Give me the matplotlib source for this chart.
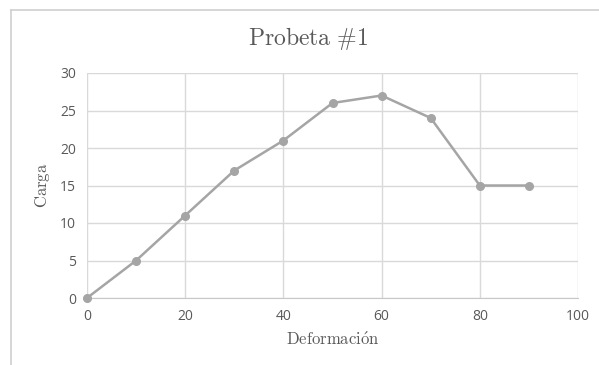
import matplotlib
matplotlib.use("Agg")
import matplotlib.pyplot as plt
from matplotlib.lines import Line2D

deformacion = [0, 10, 20, 30, 40, 50, 60, 70, 80, 90]
carga = [0, 5, 11, 17, 21, 26, 27, 24, 15, 15]
x_ticks = [0, 20, 40, 60, 80, 100]
y_ticks = [0, 5, 10, 15, 20, 25, 30]

plt.rcParams["mathtext.fontset"] = "cm"
text_color = "#595959"
series_color = "#a5a5a5"
grid_color = "#d9d9d9"

fig = plt.figure(figsize=(5.99, 3.65), dpi=100)
ax = fig.add_axes([87 / 599, 1 - 298 / 365, (578 - 87) / 599, (298 - 73) / 365])

ax.plot(deformacion, carga, color=series_color, lw=1.8, marker="o", ms=5.5,
        markerfacecolor=series_color, markeredgecolor=series_color, clip_on=False, zorder=3)

ax.set_xlim(0, 100)
ax.set_ylim(0, 30)
ax.set_xticks(x_ticks)
ax.set_yticks(y_ticks)
ax.grid(True, color=grid_color, lw=1.0)
ax.set_axisbelow(True)
for side in ["top", "right", "left"]:
    ax.spines[side].set_visible(False)
ax.spines["bottom"].set_color("#c8c8c8")
ax.tick_params(length=0, labelsize=10, labelcolor=text_color, pad=8)
for lab in ax.get_xticklabels() + ax.get_yticklabels():
    lab.set_family("Open Sans")

fig.text(308 / 599, 1 - 38 / 365, r"$\mathrm{Probeta\ \#1}$", ha="center", va="center",
         fontsize=17, color=text_color)
fig.text(333 / 599, 1 - 340 / 365, r"$\mathrm{Deformaci\acute{o}n}$", ha="center", va="center",
         fontsize=12, color=text_color)
fig.text(42 / 599, 1 - 185 / 365, r"$\mathrm{Carga}$", ha="center", va="center",
         fontsize=12, color=text_color, rotation=90)

# frame edges of the chart area
fig.add_artist(Line2D([11 / 599, 1], [1 - 9.5 / 365, 1 - 9.5 / 365], color="#cfcfcf", lw=1.2))
fig.add_artist(Line2D([11 / 599, 11 / 599], [0, 1 - 9.5 / 365], color="#cfcfcf", lw=1.2))

fig.savefig("out.png", dpi=100, facecolor="white")
